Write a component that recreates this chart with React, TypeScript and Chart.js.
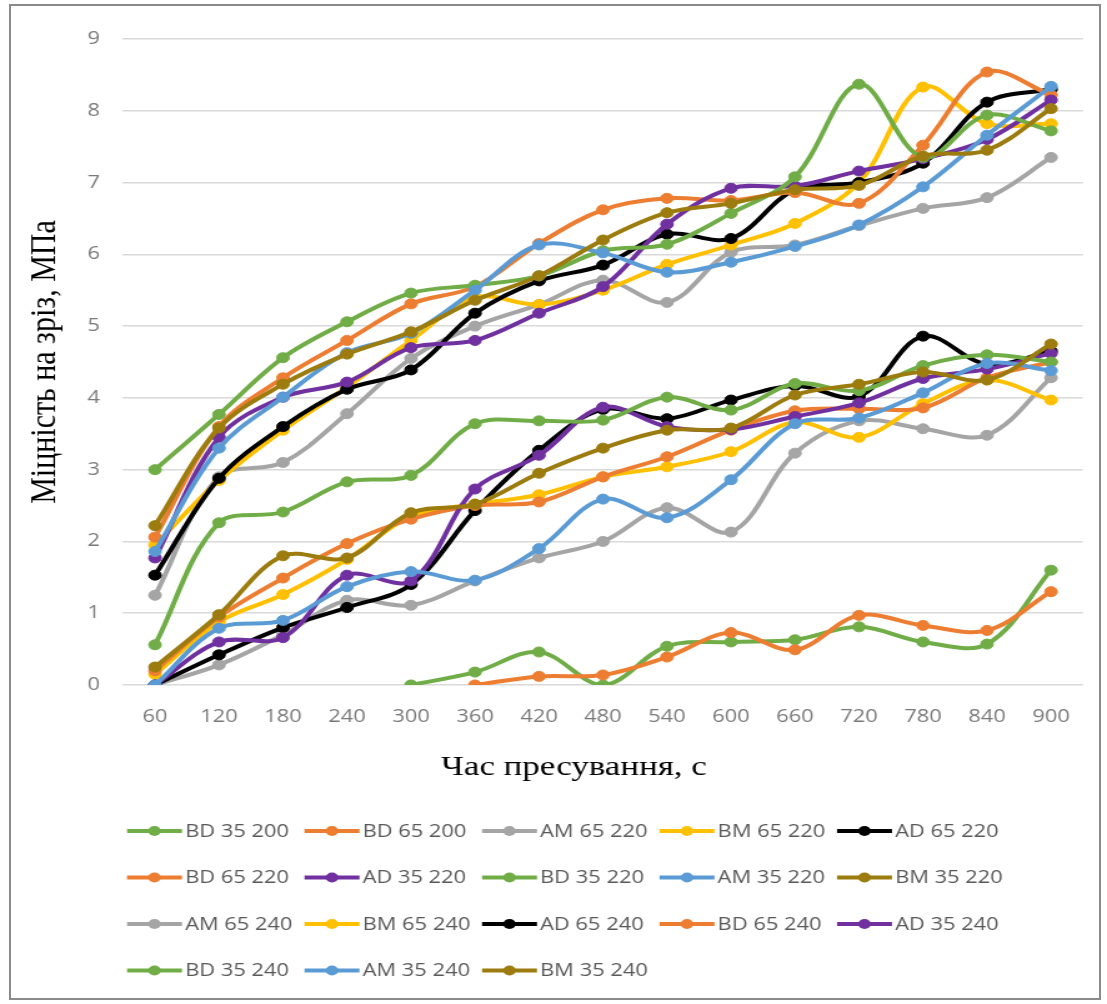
import { useEffect, useRef } from "react";
import { Chart, registerables } from "chart.js";

Chart.register(...registerables);

// ---------- data ----------
const times = ["60", "120", "180", "240", "300", "360", "420", "480", "540", "600", "660", "720", "780", "840", "900"];

const bd35_200 = [null, null, null, null, 0, 0.18, 0.46, 0, 0.54, 0.6, 0.63, 0.81, 0.6, 0.57, 1.6];
const bd65_200 = [null, null, null, null, null, 0, 0.12, 0.14, 0.39, 0.73, 0.49, 0.97, 0.83, 0.76, 1.3];
const am65_220 = [0, 0.28, 0.7, 1.18, 1.11, 1.45, 1.77, 2.0, 2.47, 2.13, 3.23, 3.68, 3.57, 3.48, 4.28];
const bm65_220 = [0.15, 0.88, 1.26, 1.75, 2.35, 2.52, 2.65, 2.9, 3.04, 3.25, 3.66, 3.45, 3.92, 4.25, 3.97];
const ad65_220 = [0, 0.42, 0.8, 1.08, 1.4, 2.43, 3.27, 3.84, 3.71, 3.97, 4.17, 4.02, 4.86, 4.47, 4.65];
const bd65_220 = [0.2, 0.95, 1.49, 1.97, 2.31, 2.5, 2.55, 2.9, 3.18, 3.55, 3.82, 3.85, 3.86, 4.28, 4.5];
const ad35_220 = [0, 0.6, 0.66, 1.53, 1.45, 2.73, 3.2, 3.87, 3.6, 3.56, 3.74, 3.93, 4.27, 4.4, 4.62];
const bd35_220 = [0.56, 2.26, 2.41, 2.83, 2.92, 3.64, 3.68, 3.69, 4.01, 3.83, 4.2, 4.1, 4.45, 4.6, 4.5];
const am35_220 = [0, 0.79, 0.9, 1.37, 1.58, 1.46, 1.9, 2.59, 2.33, 2.86, 3.64, 3.72, 4.07, 4.48, 4.38];
const bm35_220 = [0.25, 0.98, 1.8, 1.77, 2.4, 2.52, 2.95, 3.3, 3.55, 3.58, 4.04, 4.19, 4.36, 4.25, 4.75];
const am65_240 = [1.25, 2.9, 3.1, 3.78, 4.55, 5.0, 5.3, 5.64, 5.33, 6.03, 6.13, 6.4, 6.64, 6.79, 7.35];
const bm65_240 = [1.95, 2.85, 3.55, 4.15, 4.8, 5.4, 5.3, 5.5, 5.86, 6.13, 6.43, 7.0, 8.33, 7.82, 7.82];
const ad65_240 = [1.53, 2.88, 3.6, 4.12, 4.39, 5.18, 5.63, 5.85, 6.28, 6.22, 6.9, 7.0, 7.27, 8.12, 8.3];
const bd65_240 = [2.06, 3.6, 4.28, 4.8, 5.31, 5.55, 6.15, 6.62, 6.78, 6.75, 6.86, 6.71, 7.52, 8.54, 8.22];
const ad35_240 = [1.77, 3.45, 4.01, 4.22, 4.7, 4.8, 5.18, 5.55, 6.42, 6.92, 6.95, 7.16, 7.33, 7.6, 8.15];
const bd35_240 = [3.0, 3.77, 4.56, 5.06, 5.46, 5.57, 5.7, 6.05, 6.14, 6.57, 7.08, 8.37, 7.35, 7.94, 7.72];
const am35_240 = [1.86, 3.3, 4.01, 4.63, 4.9, 5.5, 6.13, 6.02, 5.75, 5.89, 6.11, 6.41, 6.94, 7.66, 8.34];
const bm35_240 = [2.22, 3.58, 4.19, 4.61, 4.92, 5.36, 5.7, 6.2, 6.58, 6.71, 6.9, 6.96, 7.37, 7.45, 8.03];

const seriesLabels = [
  "BD 35 200", "BD 65 200", "AM 65 220", "BM 65 220", "AD 65 220",
  "BD 65 220", "AD 35 220", "BD 35 220", "AM 35 220", "BM 35 220",
  "AM 65 240", "BM 65 240", "AD 65 240", "BD 65 240", "AD 35 240",
  "BD 35 240", "AM 35 240", "BM 35 240",
];
const seriesValues = [
  bd35_200, bd65_200, am65_220, bm65_220, ad65_220,
  bd65_220, ad35_220, bd35_220, am35_220, bm35_220,
  am65_240, bm65_240, ad65_240, bd65_240, ad35_240,
  bd35_240, am35_240, bm35_240,
];

const GREEN = "#70AD47";
const ORANGE = "#ED7D31";
const GRAY = "#A5A5A5";
const YELLOW = "#FFC000";
const BLACK = "#000000";
const PURPLE = "#7030A0";
const BLUE = "#5B9BD5";
const GOLD = "#9C7C0E";
const seriesColors = [
  GREEN, ORANGE, GRAY, YELLOW, BLACK,
  ORANGE, PURPLE, GREEN, BLUE, GOLD,
  GRAY, YELLOW, BLACK, ORANGE, PURPLE,
  GREEN, BLUE, GOLD,
];

const xTitle = "Час пресування, с";
const yTitle = "Міцність на зріз, МПа";

// ---------- layout (canvas units; canvas is stretched horizontally like the reference) ----------
const CSS_W = 1107;
const CSS_H = 1004;
const CANVAS_W = 886;
const SX = CSS_W / CANVAS_W;

const extrasPlugin = {
  id: "extras",
  afterDraw(chart: any) {
    const ctx = chart.ctx as CanvasRenderingContext2D;
    ctx.save();
    // x axis title
    ctx.fillStyle = "#000";
    ctx.font = "28px 'Liberation Serif'";
    ctx.textAlign = "center";
    ctx.textBaseline = "middle";
    ctx.fillText(xTitle, 574 / SX, 768);

    // legend
    const x0 = 127 / SX;
    const colStep = 177.5 / SX;
    const y0 = 831;
    const rowStep = 46.5;
    const lineLen = 55 / SX;
    ctx.font = "17.5px 'Open Sans'";
    ctx.textAlign = "left";
    chart.data.datasets.forEach((ds: any, i: number) => {
      const col = i % 5;
      const row = Math.floor(i / 5);
      const x = x0 + col * colStep;
      const y = y0 + row * rowStep;
      ctx.strokeStyle = ds.borderColor;
      ctx.lineWidth = 4;
      ctx.lineCap = "butt";
      ctx.beginPath();
      ctx.moveTo(x, y);
      ctx.lineTo(x + lineLen, y);
      ctx.stroke();
      ctx.fillStyle = ds.borderColor;
      ctx.beginPath();
      ctx.arc(x + lineLen / 2, y, 5, 0, Math.PI * 2);
      ctx.fill();
      ctx.fillStyle = "#595959";
      ctx.fillText(ds.label, x + lineLen + 2.5, y + 1);
    });
    ctx.restore();
  },
};

export default function App() {
  const ref = useRef<HTMLCanvasElement>(null);

  useEffect(() => {
    document.body.style.margin = "0";
    Chart.defaults.font.family = "'Open Sans'";
    const datasets = seriesValues.map((vals, i) => ({
      label: seriesLabels[i],
      data: vals,
      borderColor: seriesColors[i],
      backgroundColor: seriesColors[i],
      pointBackgroundColor: seriesColors[i],
      pointBorderColor: seriesColors[i],
      pointRadius: 5,
      pointBorderWidth: 1,
      borderWidth: 4,
      tension: 0.35,
      fill: false,
      order: seriesValues.length - i,
    }));

    const chart = new Chart(ref.current!, {
      type: "line",
      data: { labels: times, datasets },
      options: {
        responsive: false,
        animation: false,
        devicePixelRatio: 1,
        layout: { padding: { left: 0, right: CANVAS_W - 1083 / SX, top: 39, bottom: 259 } },
        plugins: {
          legend: { display: false },
          tooltip: { enabled: false },
        },
        scales: {
          x: {
            type: "category",
            offset: true,
            grid: { display: false, drawTicks: false },
            border: { display: false },
            ticks: { color: "#7a7a7a", font: { size: 17.5 }, padding: 22, maxRotation: 0, autoSkip: false },
            afterFit: (s: any) => { s.height = 60; },
          },
          y: {
            min: 0,
            max: 9,
            ticks: { stepSize: 1, color: "#7a7a7a", font: { size: 17.5 }, padding: 18.4 },
            grid: { color: "#d9d9d9", lineWidth: 1.5, drawTicks: false },
            border: { display: false },
            title: {
              display: true,
              text: yTitle,
              color: "#000",
              font: { family: "'Liberation Serif'", size: 30 },
              padding: { top: 18, bottom: 0 },
            },
            afterFit: (s: any) => { s.width = 123 / SX; },
          },
        },
      },
      plugins: [extrasPlugin],
    });
    return () => chart.destroy();
  }, []);

  return (
    <div style={{ position: "relative", width: CSS_W, height: CSS_H, background: "#fff", overflow: "hidden" }}>
      <canvas
        ref={ref}
        width={CANVAS_W}
        height={CSS_H}
        style={{ width: CSS_W + "px", height: CSS_H + "px", display: "block" }}
      />
      <div
        style={{
          position: "absolute",
          left: 9,
          top: 4,
          width: 1092,
          height: 996,
          border: "2px solid #8a8a8a",
          boxSizing: "border-box",
          pointerEvents: "none",
        }}
      />
    </div>
  );
}
